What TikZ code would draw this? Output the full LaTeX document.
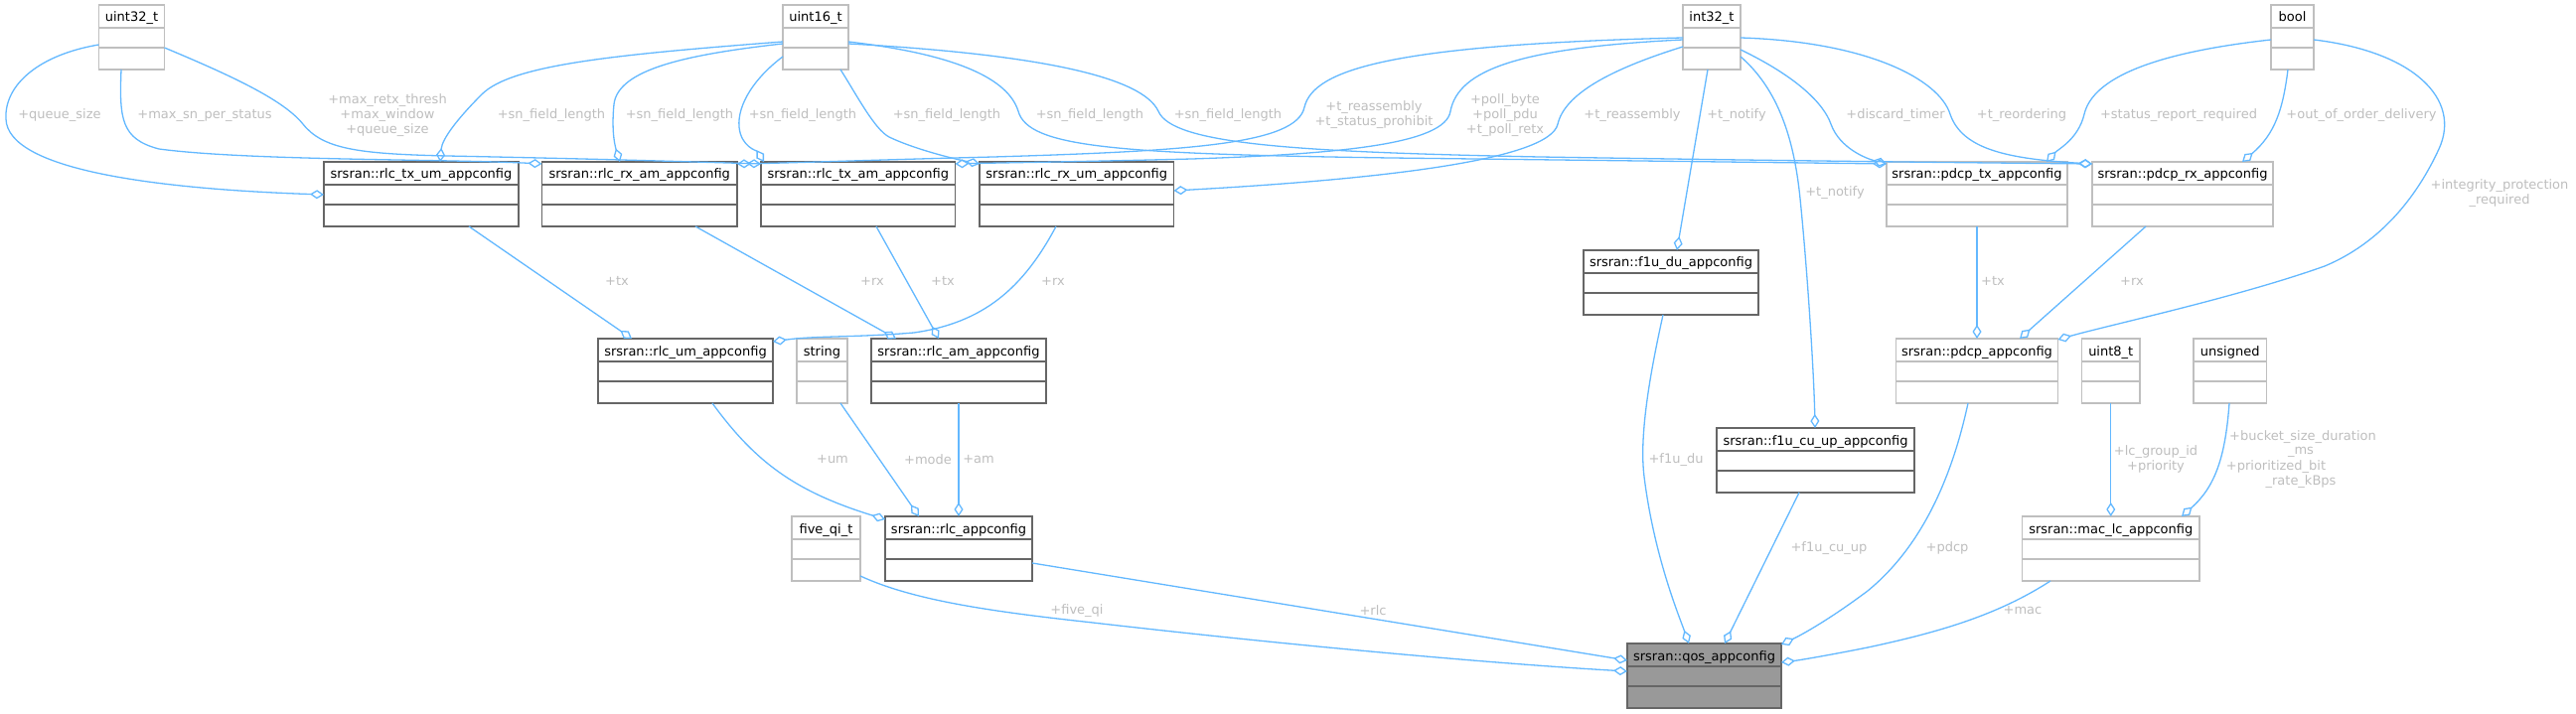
\documentclass[tikz,border=0pt]{standalone}
\usepackage{fontspec}
\setmainfont{DejaVu Sans}
\usetikzlibrary{arrows.meta,calc}
\definecolor{eblue}{HTML}{63B8FF}
\definecolor{cdark}{HTML}{666666}
\definecolor{clight}{HTML}{BFBFBF}
\definecolor{cqos}{HTML}{999999}
\definecolor{lgrey}{HTML}{BEBEBE}
\newcommand\fsz{\fontsize{13}{15}\selectfont}
\newcommand\umlbox[6]{%
  \node[#2, minimum width=#5pt] (#1) at (#3,#4) {};
  \node[ttl] (#1t) at ($(#1.north)+(0,17)$) {#6};
  \draw[#2line] ($(#1.north west)+(0,23)$) -- ($(#1.north east)+(0,23)$)
                ($(#1.north west)+(0,43)$) -- ($(#1.north east)+(0,43)$);
}
\tikzset{
  clsbase/.style={line width=1.25pt, minimum height=65pt, inner sep=0pt, outer sep=0pt, anchor=north west},
  clsdark/.style={clsbase, draw=cdark, fill=white},
  clsdarkline/.style={draw=cdark, line width=1.25pt},
  clslight/.style={clsbase, draw=clight, fill=white},
  clslightline/.style={draw=clight, line width=1.25pt},
  clsqos/.style={clsbase, draw=cdark, fill=cqos},
  clsqosline/.style={draw=cdark, line width=1.25pt},
  ttl/.style={font=\fsz, inner sep=0pt, anchor=base, text=black},
  lbl/.style={font=\fsz, text=lgrey, align=center, inner sep=0pt},
  edge/.style={draw=eblue, line width=1.3pt, -{Diamond[open, length=14pt, width=9pt]}},
}
\begin{document}
\begin{tikzpicture}[x=1pt, y=-1pt]
\useasboundingbox (0,0) rectangle (2593,719);
% classes
\umlbox{u32}{clslight}{99.5}{5}{66}{uint32\_t}
\umlbox{u16}{clslight}{788}{5}{66}{uint16\_t}
\umlbox{i32}{clslight}{1694}{5}{58}{int32\_t}
\umlbox{bool}{clslight}{2286}{5}{43}{bool}
\umlbox{txum}{clsdark}{326}{163}{196}{srsran::rlc\_tx\_um\_appconfig}
\umlbox{rxam}{clsdark}{545.5}{163}{196.5}{srsran::rlc\_rx\_am\_appconfig}
\umlbox{txam}{clsdark}{766}{163}{195.5}{srsran::rlc\_tx\_am\_appconfig}
\umlbox{rxum}{clsdark}{986}{163}{195.5}{srsran::rlc\_rx\_um\_appconfig}
\umlbox{pdtx}{clslight}{1899}{163}{182}{srsran::pdcp\_tx\_appconfig}
\umlbox{pdrx}{clslight}{2106}{163}{182}{srsran::pdcp\_rx\_appconfig}
\umlbox{f1udu}{clsdark}{1594}{252}{176}{srsran::f1u\_du\_appconfig}
\umlbox{rlcum}{clsdark}{602}{341}{176}{srsran::rlc\_um\_appconfig}
\umlbox{string}{clslight}{802}{341}{51}{string}
\umlbox{rlcam}{clsdark}{877}{341}{176}{srsran::rlc\_am\_appconfig}
\umlbox{pdapp}{clslight}{1908.5}{341}{163}{srsran::pdcp\_appconfig}
\umlbox{uint8}{clslight}{2095.5}{341}{58.5}{uint8\_t}
\umlbox{unsig}{clslight}{2208}{341}{73.5}{unsigned}
\umlbox{f1ucu}{clsdark}{1728}{431}{199}{srsran::f1u\_cu\_up\_appconfig}
\umlbox{fiveqi}{clslight}{797}{520}{69}{five\_qi\_t}
\umlbox{rlcapp}{clsdark}{891}{520}{148}{srsran::rlc\_appconfig}
\umlbox{maclc}{clslight}{2035.5}{520}{178.5}{srsran::mac\_lc\_appconfig}
\umlbox{qos}{clsqos}{1638}{648}{155}{srsran::qos\_appconfig}
% edges
\draw[edge] ($(u32.north west)+(0,40)$) .. controls (40,55) and (4,85) .. (6,120) .. controls (8,170) and (150,190) .. ($(txum.north west)+(0,33)$);
\draw[edge] ($(u32.north west)+(22.5,65)$) .. controls (120,120) and (122,140) .. (160,150) .. controls (250,162) and (450,160) .. ($(rxam.north west)+(0,2)$);
\draw[edge] ($(u32.north west)+(66,43)$) .. controls (230,75) and (285,100) .. (305,125) .. controls (325,150) and (360,155) .. (450,157) .. controls (600,160) and (700,163) .. ($(txam.north west)+(0,2)$);
\draw[edge] ($(u16.north west)+(0,37)$) .. controls (620,55) and (515,65) .. (485,95) .. controls (460,120) and (445,140) .. ($(txum.north west)+(117,0)$);
\draw[edge] ($(u16.north west)+(0,39)$) .. controls (690,55) and (622,70) .. (618,105) .. controls (615,135) and (620,150) .. ($(rxam.north west)+(78.5,0)$);
\draw[edge] ($(u16.north west)+(0,52)$) .. controls (760,78) and (742,105) .. (744,128) .. controls (746,148) and (762,152) .. ($(txam.north west)+(3,0)$);
\draw[edge] ($(u16.north west)+(58,65)$) .. controls (862,95) and (880,130) .. (895,138) .. controls (920,150) and (960,160) .. ($(rxum.north west)+(0,2)$);
\draw[edge] ($(u16.north west)+(66,37)$) .. controls (965,55) and (1015,80) .. (1025,112) .. controls (1035,148) and (1120,155) .. (1400,159) .. controls (1650,162) and (1820,164) .. ($(pdtx.north west)+(0,2)$);
\draw[edge] ($(u16.north west)+(66,39)$) .. controls (1050,55) and (1150,78) .. (1166,112) .. controls (1180,145) and (1300,153) .. (1550,158) .. controls (1800,162) and (2000,164) .. ($(pdrx.north west)+(0,2)$);
\draw[edge] ($(i32.north west)+(0,33)$) .. controls (1400,45) and (1322,70) .. (1313,108) .. controls (1305,145) and (1200,152) .. (1000,158) .. controls (880,161) and (800,164) .. ($(rxam.north west)+(196.5,2)$);
\draw[edge] ($(i32.north west)+(0,35)$) .. controls (1530,48) and (1468,70) .. (1460,112) .. controls (1455,145) and (1350,155) .. (1200,160) .. controls (1080,163) and (1000,164) .. ($(txam.north west)+(195.5,2)$);
\draw[edge] ($(i32.north west)+(0,42)$) .. controls (1620,70) and (1575,95) .. (1568,125) .. controls (1560,160) and (1400,180) .. ($(rxum.north west)+(195.5,29)$);
\draw[edge] ($(i32.north west)+(25,65)$) -- ($(f1udu.north west)+(94,0)$);
\draw[edge] ($(i32.north west)+(58,52)$) .. controls (1790,90) and (1806,140) .. (1812,200) .. controls (1820,280) and (1826,380) .. ($(f1ucu.north west)+(99,0)$);
\draw[edge] ($(i32.north west)+(58,45)$) .. controls (1810,78) and (1836,105) .. (1843,125) .. controls (1852,150) and (1880,160) .. ($(pdtx.north west)+(0,2)$);
\draw[edge] ($(i32.north west)+(58,33)$) .. controls (1880,42) and (1952,80) .. (1963,115) .. controls (1975,150) and (2020,160) .. ($(pdrx.north west)+(0,2)$);
\draw[edge] ($(bool.north west)+(0,35)$) .. controls (2150,55) and (2105,85) .. (2098,115) .. controls (2092,140) and (2072,150) .. ($(pdtx.north west)+(161,0)$);
\draw[edge] ($(bool.north west)+(17,65)$) .. controls (2298,110) and (2290,135) .. ($(pdrx.north west)+(151,0)$);
\draw[edge] ($(bool.north west)+(43,35)$) .. controls (2430,52) and (2478,100) .. (2455,150) .. controls (2432,200) and (2395,245) .. (2340,268) .. controls (2250,300) and (2120,328) .. ($(pdapp.north west)+(163,1)$);
\draw[edge] ($(txum.north west)+(146,65)$) -- ($(rlcum.north west)+(34,0)$);
\draw[edge] ($(rxum.north west)+(77,65)$) .. controls (1030,290) and (990,325) .. (920,335) .. controls (860,340) and (820,338) .. ($(rlcum.north west)+(176,3)$);
\draw[edge] ($(rxam.north west)+(154.5,65)$) -- ($(rlcam.north west)+(25,0)$);
\draw[edge] ($(txam.north west)+(116,65)$) -- ($(rlcam.north west)+(68,0)$);
\draw[edge] ($(rlcum.north west)+(115,65)$) .. controls (760,465) and (800,495) .. ($(rlcapp.north west)+(0,3)$);
\draw[edge] ($(string.north west)+(44,65)$) -- ($(rlcapp.north west)+(34,0)$);
\draw[edge] ($(rlcam.north west)+(88,65)$) -- ($(rlcapp.north west)+(74,0)$);
\draw[edge] ($(rlcapp.north west)+(148,47)$) -- ($(qos.north west)+(0,17)$);
\draw[edge] ($(fiveqi.north west)+(69,60)$) .. controls (920,605) and (1000,616) .. (1100,627) .. controls (1300,650) and (1500,668) .. ($(qos.north west)+(0,28)$);
\draw[edge] ($(f1udu.north west)+(80,65)$) .. controls (1660,380) and (1650,440) .. (1655,480) .. controls (1665,560) and (1690,620) .. ($(qos.north west)+(62,0)$);
\draw[edge] ($(f1ucu.north west)+(83,65)$) -- ($(qos.north west)+(98,0)$);
\draw[edge] ($(pdapp.north west)+(72.5,65)$) .. controls (1965,480) and (1935,550) .. (1880,595) .. controls (1840,625) and (1812,640) .. ($(qos.north west)+(155,1)$);
\draw[edge] ($(maclc.north west)+(28.5,65)$) .. controls (2010,620) and (1950,637) .. (1880,652) .. controls (1840,660) and (1810,665) .. ($(qos.north west)+(155,19)$);
\draw[edge] ($(pdtx.north west)+(91,65)$) -- ($(pdapp.north west)+(81.5,0)$);
\draw[edge] ($(pdrx.north west)+(54,65)$) -- ($(pdapp.north west)+(124.5,0)$);
\draw[edge] ($(uint8.north west)+(29.25,65)$) -- ($(maclc.north west)+(89.25,0)$);
\draw[edge] ($(unsig.north west)+(36,65)$) .. controls (2240,460) and (2230,490) .. ($(maclc.north west)+(160.5,0)$);
% labels
\node[lbl] (l1) at (60,116) {+queue\_size};
\node[lbl] (l2) at (206,116) {+max\_sn\_per\_status};
\node[lbl] (l3) at (390,116) {+max\_retx\_thresh\\+max\_window\\+queue\_size};
\node[lbl] (l4) at (555,116) {+sn\_field\_length};
\node[lbl] (l5) at (684,116) {+sn\_field\_length};
\node[lbl] (l6) at (808,116) {+sn\_field\_length};
\node[lbl] (l7) at (953,116) {+sn\_field\_length};
\node[lbl] (l8) at (1097,116) {+sn\_field\_length};
\node[lbl] (l9) at (1236,116) {+sn\_field\_length};
\node[lbl] (l10) at (1383,116) {+t\_reassembly\\+t\_status\_prohibit};
\node[lbl] (l11) at (1515,116) {+poll\_byte\\+poll\_pdu\\+t\_poll\_retx};
\node[lbl] (l12) at (1643,116) {+t\_reassembly};
\node[lbl] (l13) at (1748,116) {+t\_notify};
\node[lbl] (l14) at (1847,194) {+t\_notify};
\node[lbl] (l15) at (1908,116) {+discard\_timer};
\node[lbl] (l16) at (2035,116) {+t\_reordering};
\node[lbl] (l17) at (2193,116) {+status\_report\_required};
\node[lbl] (l18) at (2377,116) {+out\_of\_order\_delivery};
\node[lbl] (l19) at (2516,195) {+integrity\_protection\\\_required};
\node[lbl] (l20) at (621,283) {+tx};
\node[lbl] (l21) at (1060,283) {+rx};
\node[lbl] (l22) at (878,283) {+rx};
\node[lbl] (l23) at (949,283) {+tx};
\node[lbl] (l24) at (838,463) {+um};
\node[lbl] (l25) at (934,463) {+mode};
\node[lbl] (l26) at (985,463) {+am};
\node[lbl] (l27) at (1382,615) {+rlc};
\node[lbl] (l28) at (1084,615) {+five\_qi};
\node[lbl] (l29) at (1687,463) {+f1u\_du};
\node[lbl] (l30) at (1841,552) {+f1u\_cu\_up};
\node[lbl] (l31) at (1960,552) {+pdcp};
\node[lbl] (l32) at (2036,615) {+mac};
\node[lbl] (l33) at (2006,283) {+tx};
\node[lbl] (l34) at (2146,283) {+rx};
\node[lbl] (l35) at (2170,462) {+lc\_group\_id\\+priority};
\node[lbl] (l36a) at (2318,440) {+bucket\_size\_duration};
\node[lbl] (l36b) at (2316,455) {\_ms};
\node[lbl] (l36c) at (2291,470) {+prioritized\_bit};
\node[lbl] (l36d) at (2316,485) {\_rate\_kBps};
\end{tikzpicture}
\end{document}
